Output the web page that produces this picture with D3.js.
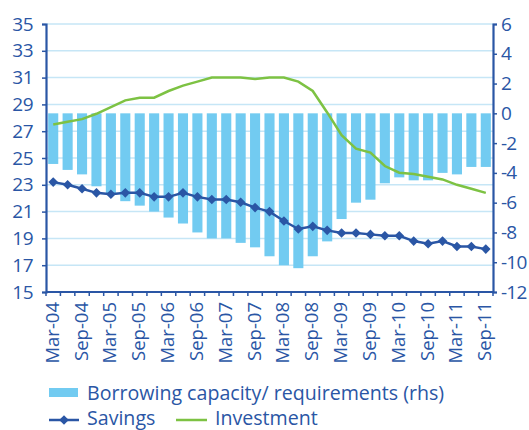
<!DOCTYPE html>
<html>
<head>
<meta charset="utf-8">
<script src="https://cdn.jsdelivr.net/npm/d3@7"></script>
<style>
  body { margin: 0; background: #fff; }
  text { font-family: "Open Sans", sans-serif; fill: #2a56a5; }
</style>
</head>
<body>
<svg id="chart" width="529" height="430"></svg>
<script>
(function () {
    'use strict';

    // quarterly categories, Mar-04 .. Sep-11
    const quarters = [
        "Mar-04", "Jun-04", "Sep-04", "Dec-04",
        "Mar-05", "Jun-05", "Sep-05", "Dec-05",
        "Mar-06", "Jun-06", "Sep-06", "Dec-06",
        "Mar-07", "Jun-07", "Sep-07", "Dec-07",
        "Mar-08", "Jun-08", "Sep-08", "Dec-08",
        "Mar-09", "Jun-09", "Sep-09", "Dec-09",
        "Mar-10", "Jun-10", "Sep-10", "Dec-10",
        "Mar-11", "Jun-11", "Sep-11"
    ];

    // borrowing capacity / requirements (rhs, % GDP)
    const borrowing = [
        -3.4, -3.8, -4.1, -4.9,
        -5.4, -5.9, -6.2, -6.6,
        -7.0, -7.4, -8.0, -8.4,
        -8.4, -8.7, -9.0, -9.6,
        -10.2, -10.4, -9.6, -8.6,
        -7.1, -6.0, -5.8, -4.7,
        -4.3, -4.5, -4.5, -4.0,
        -4.1, -3.6, -3.6
    ];

    // savings (lhs)
    const savings = [
        23.2, 23.0, 22.7, 22.4,
        22.3, 22.4, 22.4, 22.1,
        22.1, 22.4, 22.1, 21.9,
        21.9, 21.7, 21.3, 21.0,
        20.3, 19.7, 19.9, 19.6,
        19.4, 19.4, 19.3, 19.2,
        19.2, 18.8, 18.6, 18.8,
        18.4, 18.4, 18.2
    ];

    // investment (lhs)
    const investment = [
        27.5, 27.7, 27.9, 28.3,
        28.8, 29.3, 29.5, 29.5,
        30.0, 30.4, 30.7, 31.0,
        31.0, 31.0, 30.9, 31.0,
        31.0, 30.7, 30.0, 28.4,
        26.7, 25.7, 25.4, 24.4,
        23.9, 23.8, 23.6, 23.4,
        23.0, 22.7, 22.4
    ];

    const leftTicks = d3.range(15, 36, 2);
    const rightTicks = d3.range(-12, 7, 2);

    const BLUE = "#2a56a5";
    const BAR = "#72cbf1";
    const GREEN = "#7dc243";
    const GRID = "#c6e6f6";

    const svg = d3.select("#chart");
    const m = { left: 46, right: 493, top: 24, bottom: 292 };

    const x = d3.scaleBand()
        .domain(quarters)
        .range([m.left, m.right])
        .paddingInner(0.3)
        .paddingOuter(0.15);

    const xc = d => x(d) + x.bandwidth() / 2;

    const yL = d3.scaleLinear().domain([15, 35]).range([m.bottom, m.top]);
    const yR = d3.scaleLinear().domain([-12, 6]).range([m.bottom, m.top]);

    // gridlines
    svg.append("g")
        .selectAll("line")
        .data(leftTicks.filter(t => t > 15))
        .join("line")
        .attr("x1", m.left).attr("x2", m.right)
        .attr("y1", d => yL(d)).attr("y2", d => yL(d))
        .attr("stroke", GRID)
        .attr("stroke-width", 1.5);

    // bars
    svg.append("g")
        .selectAll("rect")
        .data(borrowing)
        .join("rect")
        .attr("x", (d, i) => x(quarters[i]))
        .attr("width", x.bandwidth())
        .attr("y", d => yR(Math.max(0, d)))
        .attr("height", d => Math.abs(yR(d) - yR(0)))
        .attr("fill", BAR);

    // investment line
    const line = d3.line()
        .x((d, i) => xc(quarters[i]))
        .y(d => yL(d));

    svg.append("path")
        .datum(investment)
        .attr("d", line)
        .attr("fill", "none")
        .attr("stroke", GREEN)
        .attr("stroke-width", 2.5);

    // savings line + diamonds
    svg.append("path")
        .datum(savings)
        .attr("d", line)
        .attr("fill", "none")
        .attr("stroke", BLUE)
        .attr("stroke-width", 2.5);

    const diamond = "M0,-4.8L4.8,0L0,4.8L-4.8,0Z";
    svg.append("g")
        .selectAll("path")
        .data(savings)
        .join("path")
        .attr("transform", (d, i) => `translate(${xc(quarters[i])},${yL(d)})`)
        .attr("d", diamond)
        .attr("fill", BLUE);

    // left axis
    const gL = svg.append("g")
        .attr("transform", `translate(${m.left},0)`)
        .call(d3.axisLeft(yL).tickValues(leftTicks).tickSize(4).tickPadding(9).tickFormat(d => String(d)));
    gL.select(".domain").attr("stroke", BLUE).attr("stroke-width", 2.2);
    gL.selectAll(".tick line").attr("stroke", BLUE).attr("stroke-width", 1.5);
    gL.selectAll("text").attr("font-size", 19).attr("fill", BLUE).style("letter-spacing", "-0.5px");

    // right axis
    const gR = svg.append("g")
        .attr("transform", `translate(${m.right},0)`)
        .call(d3.axisRight(yR).tickValues(rightTicks).tickSize(4).tickPadding(4).tickFormat(d => String(d)));
    gR.select(".domain").attr("stroke", BLUE).attr("stroke-width", 2.2);
    gR.selectAll(".tick line").attr("stroke", BLUE).attr("stroke-width", 1.5);
    gR.selectAll("text").attr("font-size", 19).attr("fill", BLUE).style("letter-spacing", "-0.8px");

    // bottom axis: tick marks at band boundaries, labels every other quarter
    const gB = svg.append("g");
    gB.append("line")
        .attr("x1", m.left).attr("x2", m.right)
        .attr("y1", m.bottom).attr("y2", m.bottom)
        .attr("stroke", BLUE).attr("stroke-width", 2.2);
    gB.selectAll("line.tk")
        .data(d3.range(quarters.length + 1))
        .join("line")
        .attr("class", "tk")
        .attr("x1", i => m.left + i * (m.right - m.left) / quarters.length)
        .attr("x2", i => m.left + i * (m.right - m.left) / quarters.length)
        .attr("y1", m.bottom).attr("y2", m.bottom + 4)
        .attr("stroke", BLUE).attr("stroke-width", 1.5);
    gB.selectAll("text")
        .data(quarters.filter((q, i) => i % 2 === 0))
        .join("text")
        .attr("transform", d => `translate(${xc(d) - 1},${m.bottom + 10}) rotate(-90)`)
        .attr("text-anchor", "end")
        .attr("dy", "0.35em")
        .attr("font-size", 18.5)
        .text(d => d);

    // legend
    const lg = svg.append("g");
    lg.append("rect")
        .attr("x", 49).attr("y", 388).attr("width", 29).attr("height", 9)
        .attr("fill", BAR);
    lg.append("text")
        .attr("x", 87).attr("y", 400)
        .attr("font-size", 19.6)
        .text("Borrowing capacity/ requirements (rhs)");

    lg.append("line")
        .attr("x1", 49).attr("x2", 79).attr("y1", 420).attr("y2", 420)
        .attr("stroke", BLUE).attr("stroke-width", 2.5);
    lg.append("path")
        .attr("transform", "translate(64,420)")
        .attr("d", diamond)
        .attr("fill", BLUE);
    lg.append("text")
        .attr("x", 87).attr("y", 425)
        .attr("font-size", 19.6)
        .text("Savings");

    lg.append("line")
        .attr("x1", 176).attr("x2", 207).attr("y1", 420).attr("y2", 420)
        .attr("stroke", GREEN).attr("stroke-width", 2.5);
    lg.append("text")
        .attr("x", 215).attr("y", 425)
        .attr("font-size", 19.6)
        .text("Investment");
})();
</script>
</body>
</html>
